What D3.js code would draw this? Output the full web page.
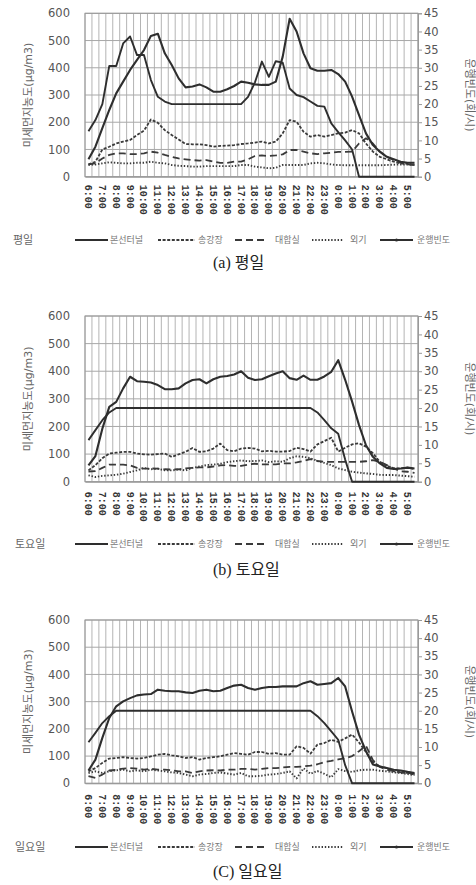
<!DOCTYPE html>
<html><head><meta charset="utf-8">
<script src="https://cdn.jsdelivr.net/npm/d3@7"></script>
<style>body{margin:0;background:#fff}svg{display:block}</style>
</head><body><svg id="c" width="476" height="885"></svg>
<script>
const categories = ["6:00","6:30","7:00","7:30","8:00","8:30","9:00","9:30","10:00","10:30","11:00","11:30","12:00","12:30","13:00","13:30","14:00","14:30","15:00","15:30","16:00","16:30","17:00","17:30","18:00","18:30","19:00","19:30","20:00","20:30","21:00","21:30","22:00","22:30","23:00","23:30","0:00","0:30","1:00","1:30","2:00","2:30","3:00","3:30","4:00","4:30","5:00","5:30"];
const hourLabels = ["6:00","7:00","8:00","9:00","10:00","11:00","12:00","13:00","14:00","15:00","16:00","17:00","18:00","19:00","20:00","21:00","22:00","23:00","0:00","1:00","2:00","3:00","4:00","5:00"];
const leftTicks = [0,100,200,300,400,500,600];
const rightTicks = [0,5,10,15,20,25,30,35,40,45];
const seriesNames = ["본선터널","송강장","대합실","외기","운행빈도"];

// 평일
const weekdayTunnel = [64,110,178,245,306,349,392,429,465,517,525,453,410,361,328,331,339,328,312,312,321,333,349,345,339,337,337,349,441,580,533,453,398,389,389,392,377,349,294,226,159,116,92,73,64,55,51,51];
const weekdayStair = [45,55,100,110,122,129,135,153,169,210,198,171,153,137,120,119,119,116,110,113,114,116,120,122,125,129,122,129,159,208,202,165,147,153,147,153,159,162,171,159,122,92,73,64,55,49,47,43];
const weekdayHall = [45,49,67,80,86,86,83,83,86,92,88,80,73,67,64,61,59,61,55,51,51,55,55,64,76,78,76,78,82,98,98,92,86,83,86,88,91,91,92,122,141,122,92,73,61,51,45,43];
const weekdayOut = [43,45,49,53,51,49,49,51,51,55,51,49,43,40,39,37,37,39,39,39,39,39,43,43,37,34,31,33,43,43,43,43,49,51,49,45,43,42,42,42,42,42,42,43,44,45,45,45];
const weekdayFreq = [12.5,15.6,20,30.5,30.5,36.7,38.6,33.5,33.5,26.6,22,20.7,20,20,20,20,20,20,20,20,20,20,20,22,26,31.7,27.5,31.8,31.4,24.3,22.5,21.9,20.7,19.5,19.3,14.7,12.3,10,7.5,0,0,0,0,0,0,0,0,0];

// 토요일
const saturdayTunnel = [59,93,192,271,289,338,380,364,362,359,350,335,335,338,356,368,371,356,371,380,383,388,400,376,368,371,382,392,400,375,369,384,369,369,381,398,440,369,290,205,132,90,66,50,46,48,51,48];
const saturdayStair = [41,60,85,102,105,108,108,102,99,98,100,102,90,99,108,122,108,110,120,138,114,110,120,122,120,110,112,109,109,111,123,118,109,135,147,159,109,123,135,139,127,103,72,58,48,48,51,46];
const saturdayHall = [37,38,50,62,62,62,59,50,47,48,47,45,44,45,48,50,52,52,55,59,60,57,57,62,65,63,63,63,66,66,70,75,82,75,72,72,72,72,72,72,74,78,72,60,48,38,36,32];
const saturdayOut = [23,17,21,23,25,29,35,41,50,45,47,41,41,44,41,50,55,60,62,65,71,74,77,74,75,77,71,74,72,85,92,90,85,75,68,60,48,42,36,33,30,28,25,24,24,22,20,18];
const saturdayFreq = [11.3,14,16.7,18.8,20,20,20,20,20,20,20,20,20,20,20,20,20,20,20,20,20,20,20,20,20,20,20,20,20,20,20,20,20,18.8,16.7,14.5,13,6,0,0,0,0,0,0,0,0,0,0];

// 일요일
const sundayTunnel = [47,87,167,240,283,301,313,323,326,328,344,340,338,338,334,332,340,344,338,340,350,359,362,350,344,350,354,354,356,356,356,368,375,362,365,368,387,356,264,179,118,69,62,56,50,47,42,38];
const sundayStair = [44,56,75,91,93,96,93,91,93,99,105,108,103,99,93,96,87,93,96,99,105,111,108,105,115,115,108,111,105,105,136,130,109,142,148,160,152,165,179,150,115,78,62,56,44,40,38,32];
const sundayHall = [26,20,32,47,50,54,56,54,50,53,50,50,48,44,44,38,44,47,48,47,50,50,53,53,50,53,56,56,58,60,60,62,65,70,78,82,88,92,100,118,138,85,60,50,45,40,38,35];
const sundayOut = [38,44,38,44,48,50,44,48,44,50,47,44,40,38,32,26,32,34,38,40,36,32,38,26,26,28,32,34,38,44,18,55,35,45,35,22,52,45,42,48,50,50,46,44,40,38,34,30];
const sundayFreq = [11.3,13.9,16.6,18.5,20,20,20,20,20,20,20,20,20,20,20,20,20,20,20,20,20,20,20,20,20,20,20,20,20,20,20,20,20,18.5,16.6,14.3,12,5,0,0,0,0,0,0,0,0,0,0];

const panels = [
  {label:"평일", caption:"(a) 평일", top:13.3, bottom:176.7, xlab:8, legY:240, capY:268,
   data:[weekdayTunnel,weekdayStair,weekdayHall,weekdayOut], freq:weekdayFreq, labX:13},
  {label:"토요일", caption:"(b) 토요일", top:316, bottom:481.7, xlab:10, legY:544, capY:575,
   data:[saturdayTunnel,saturdayStair,saturdayHall,saturdayOut], freq:saturdayFreq, labX:15},
  {label:"일요일", caption:"(C) 일요일", top:620, bottom:783.3, xlab:11, legY:847, capY:877,
   data:[sundayTunnel,sundayStair,sundayHall,sundayOut], freq:sundayFreq, labX:15}
];

const styles = [
  {dash:null, w:2.1, c:"#2e2e2e"},
  {dash:"3,1.6", w:1.8, c:"#3a3a3a"},
  {dash:"7,4", w:1.8, c:"#3a3a3a"},
  {dash:"1.4,1.8", w:1.9, c:"#3a3a3a"},
  {dash:null, w:1.9, c:"#2e2e2e"}
];

const svg = d3.select("#c");
const L = 85, R = 418;
const x = d3.scaleBand().domain(categories).range([L, R]).padding(0);
const bw = x.bandwidth();
const cx = i => x(categories[i]) + bw/2;
const font = "'DejaVu Sans', 'Noto Sans CJK KR', sans-serif";

panels.forEach(p => {
  const g = svg.append("g");
  const y = d3.scaleLinear().domain([0,600]).range([p.bottom, p.top]);
  const y2 = d3.scaleLinear().domain([0,45]).range([p.bottom, p.top]);

  // vertical gridlines at category boundaries
  const bounds = categories.map(c => x(c)).concat([R]);
  g.selectAll(".vg").data(bounds).join("line")
    .attr("x1", d=>d).attr("x2", d=>d).attr("y1", p.top).attr("y2", p.bottom)
    .attr("stroke", "#b4b4b4").attr("stroke-width", 1);
  // horizontal gridlines
  g.selectAll(".hg").data(leftTicks).join("line")
    .attr("x1", L).attr("x2", R).attr("y1", d=>y(d)).attr("y2", d=>y(d))
    .attr("stroke", "#a8a8a8").attr("stroke-width", 1);

  // left axis
  const la = g.append("g").attr("transform", `translate(${L},0)`)
    .call(d3.axisLeft(y).tickValues(leftTicks).tickSize(0).tickPadding(15));
  la.select(".domain").remove();
  la.selectAll("text").attr("fill","#555").style("font-family",font).style("font-size","11.5px");

  // right axis
  const ra = g.append("g").attr("transform", `translate(${R},0)`)
    .call(d3.axisRight(y2).tickValues(rightTicks).tickSize(4).tickPadding(2));
  ra.select(".domain").attr("stroke","#999");
  ra.selectAll("line").attr("stroke","#999");
  ra.selectAll("text").attr("fill","#555").style("font-family",font).style("font-size","11.5px");

  // bottom axis
  const ba = g.append("g").attr("transform", `translate(0,${p.bottom})`)
    .call(d3.axisBottom(x).tickValues(hourLabels).tickSize(0));
  ba.select(".domain").attr("stroke","#999");
  ba.selectAll("text")
    .attr("transform","rotate(90)").attr("x", p.xlab).attr("y", 0).attr("dy","0.35em")
    .style("text-anchor","start").attr("fill","#333")
    .style("font-family","'Liberation Mono', monospace").style("font-size","10px").style("font-weight","bold");

  // border
  g.append("rect").attr("x",L).attr("y",p.top).attr("width",R-L).attr("height",p.bottom-p.top)
    .attr("fill","none").attr("stroke","#999").attr("stroke-width",1);

  // series
  const line = d3.line().x((d,i)=>cx(i)).y(d=>y(d));
  const line2 = d3.line().x((d,i)=>cx(i)).y(d=>y2(d));
  [3,2,1,0].forEach(k => {
    const s = styles[k];
    g.append("path").datum(p.data[k]).attr("d", line)
      .attr("fill","none").attr("stroke",s.c).attr("stroke-width",s.w)
      .attr("stroke-dasharray", s.dash).attr("stroke-linejoin","round");
  });
  g.append("path").datum(p.freq).attr("d", line2)
    .attr("fill","none").attr("stroke",styles[4].c).attr("stroke-width",styles[4].w)
    .attr("stroke-linejoin","round");

  // axis titles
  const midY = (p.top + p.bottom)/2;
  g.append("text").attr("transform",`translate(28,${midY}) rotate(-90)`)
    .attr("text-anchor","middle").attr("dy","0.35em").attr("fill","#666")
    .style("font-family",font).style("font-size","11px").text("미세먼지농도(μg/m3)");
  g.append("text").attr("transform",`translate(470,${midY}) rotate(90)`)
    .attr("text-anchor","middle").attr("dy","0.35em").attr("fill","#666")
    .style("font-family",font).style("font-size","11px").text("운행빈도(회/시)");

  // legend
  const ly = p.legY;
  g.append("text").attr("x",p.labX).attr("y",ly).attr("dy","0.35em").attr("fill","#666")
    .style("font-family",font).style("font-size","11px").text(p.label);
  const sx = [75,158,235,312,380], sw = [33,37,33,31,33], tx = [110,198,275,350,417];
  seriesNames.forEach((n,k) => {
    const s = styles[k];
    g.append("line").attr("x1",sx[k]).attr("x2",sx[k]+sw[k]).attr("y1",ly).attr("y2",ly)
      .attr("stroke",s.c).attr("stroke-width",s.w).attr("stroke-dasharray",s.dash);
    if (k===4) g.append("circle").attr("cx",sx[k]+sw[k]/2).attr("cy",ly).attr("r",1.6).attr("fill",s.c);
    g.append("text").attr("x",tx[k]).attr("y",ly).attr("dy","0.35em").attr("fill","#777")
      .style("font-family",font).style("font-size","9px").text(n);
  });

  // caption
  g.append("text").attr("x",213).attr("y",p.capY).attr("fill","#222")
    .style("font-family","'Liberation Serif','DejaVu Serif','Noto Sans CJK KR',serif").style("font-size","16px")
    .text(p.caption);
});
</script></body></html>
